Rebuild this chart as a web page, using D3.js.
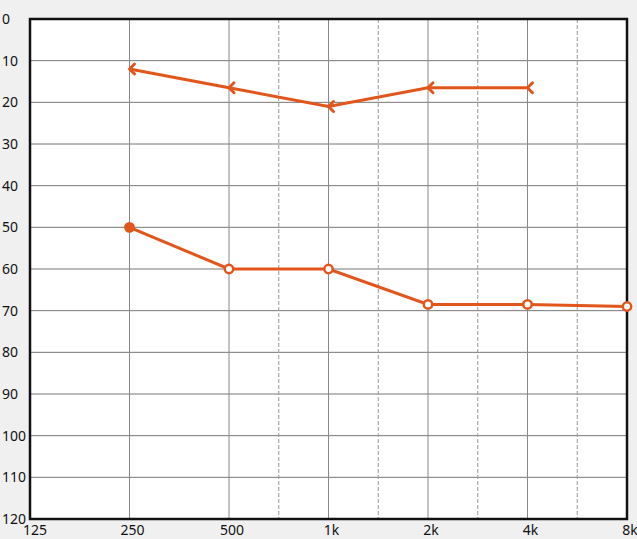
<!DOCTYPE html>
<html><head><meta charset="utf-8">
<script src="https://cdn.jsdelivr.net/npm/d3@7"></script>
<style>
html,body{margin:0;padding:0;background:#f0f0f0;}
svg{display:block;}
text{font-family:"Noto Sans","DejaVu Sans",sans-serif;font-size:14px;fill:#111;}
</style></head>
<body><svg id="c" width="637" height="539"></svg>
<script>
const freqs = [125, 250, 500, 1000, 2000, 4000, 8000];
const freqLabels = ["125", "250", "500", "1k", "2k", "4k", "8k"];
const halfOctaves = [750, 1500, 3000, 6000];
const dbTicks = [0, 10, 20, 30, 40, 50, 60, 70, 80, 90, 100, 110, 120];
const airFreqs = [250, 500, 1000, 2000, 4000, 8000];
const airValues = [50, 60, 60, 68.5, 68.5, 69];
const boneFreqs = [250, 500, 1000, 2000, 4000];
const boneValues = [12, 16.5, 21, 16.5, 16.5];

const svg = d3.select("#c");
const L = 30, R = 627, T = 19, B = 519;
const x = d3.scaleLog().base(2).domain([125, 8000]).range([L, R]);
const y = d3.scaleLinear().domain([0, 120]).range([T, B]);
const color = "#e2561c";
// half-octave lines drawn midway between their neighbouring octave lines (audiogram convention)
const halfX = f => (x(f * 2 / 3) + x(f * 4 / 3)) / 2;

svg.append("rect").attr("x", L).attr("y", T).attr("width", R - L).attr("height", B - T).attr("fill", "#fff");

svg.append("g").selectAll("line").data(dbTicks.slice(1, -1)).join("line")
  .attr("x1", L).attr("x2", R).attr("y1", d => y(d)).attr("y2", d => y(d))
  .attr("stroke", "#777").attr("stroke-width", 1);
svg.append("g").selectAll("line").data(freqs.slice(1, -1)).join("line")
  .attr("x1", d => x(d)).attr("x2", d => x(d)).attr("y1", T).attr("y2", B)
  .attr("stroke", "#888").attr("stroke-width", 1);
svg.append("g").selectAll("line").data(halfOctaves).join("line")
  .attr("x1", d => halfX(d)).attr("x2", d => halfX(d)).attr("y1", T).attr("y2", B)
  .attr("stroke", "#999").attr("stroke-width", 1).attr("stroke-dasharray", "4,2");

svg.append("rect").attr("x", L).attr("y", T).attr("width", R - L).attr("height", B - T)
  .attr("fill", "none").attr("stroke", "#111").attr("stroke-width", 2.5);

svg.append("g").selectAll("text").data(dbTicks).join("text")
  .attr("x", 2).attr("y", d => y(d)).attr("dy", "0.35em").attr("font-size", 15).text(d => d);
svg.append("g").selectAll("text").data(freqs).join("text")
  .attr("x", (d, i) => x(d) + (i === 0 ? 5 : 3)).attr("y", 535).attr("text-anchor", "middle")
  .attr("font-size", 15).text((d, i) => freqLabels[i]);

const line = d3.line().x(d => x(d[0])).y(d => y(d[1]));

const bone = boneFreqs.map((f, i) => [f, boneValues[i]]);
svg.append("path").attr("d", line(bone)).attr("fill", "none").attr("stroke", color).attr("stroke-width", 3);
svg.append("g").selectAll("path").data(bone).join("path")
  .attr("d", d => `M${x(d[0]) + 5},${y(d[1]) - 5}L${x(d[0])},${y(d[1])}L${x(d[0]) + 5},${y(d[1]) + 5}`)
  .attr("fill", "none").attr("stroke", color).attr("stroke-width", 3).attr("stroke-linecap", "round").attr("stroke-linejoin", "round");

const air = airFreqs.map((f, i) => [f, airValues[i]]);
svg.append("path").attr("d", line(air)).attr("fill", "none").attr("stroke", color).attr("stroke-width", 3);
svg.append("g").selectAll("circle").data(air).join("circle")
  .attr("cx", d => x(d[0])).attr("cy", d => y(d[1])).attr("r", 4.2)
  .attr("fill", (d, i) => i === 0 ? color : "#fff").attr("stroke", color).attr("stroke-width", 2.5);
</script></body></html>
